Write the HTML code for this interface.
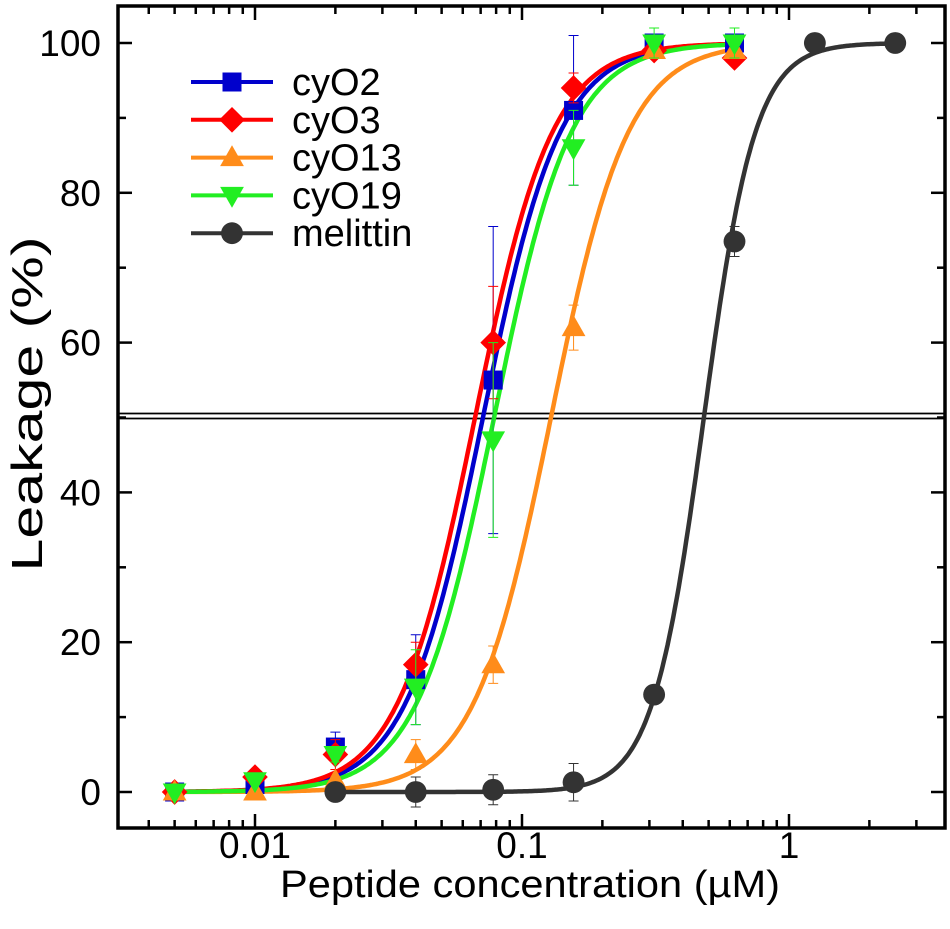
<!DOCTYPE html>
<html><head><meta charset="utf-8"><style>
body{margin:0;background:#fff}
svg{display:block;font-family:"Liberation Sans",Arial,sans-serif}
</style></head><body>
<svg id="chart" width="950" height="929" viewBox="0 0 950 929">
<g id="grid"></g>
<g id="curves"></g>
<g id="marks"></g>
<g id="axes"></g>
<g id="legend"></g>
</svg>
<script>
const concentrations = [0.005, 0.01, 0.02, 0.04, 0.078, 0.156, 0.3125, 0.625];
const melittinConc = [0.02, 0.04, 0.078, 0.156, 0.3125, 0.625, 1.25, 2.5];
const cyO2Values = [0, 1, 6, 15, 55, 91, 100, 100];
const cyO2Errors = [0, 1, 2, 6, 20.5, 10, 1, 1];
const cyO3Values = [0, 2, 5, 17, 60, 94, 99, 98];
const cyO3Errors = [0, 0, 2, 3, 7.5, 2, 1, 1];
const cyO13Values = [0, 0, 1.5, 5, 17, 62, 99, 99];
const cyO13Errors = [0, 0, 0, 2, 2.5, 3, 1, 1];
const cyO19Values = [0, 1.5, 5, 14, 47, 86, 100, 100];
const cyO19Errors = [0, 0, 1, 5, 13, 5, 2, 2];
const melittinValues = [0, 0, 0.3, 1.3, 13, 73.5, 100, 100];
const melittinErrors = [0, 2, 2, 2.5, 0, 2, 0, 0];
const ec50s = [0.0714, 0.0667, 0.1284, 0.0786, 0.48];
const hillN = [3, 3, 3, 3, 4.5];
const xTickLabels = ["0.01", "0.1", "1"];
const yTickLabels = [0, 20, 40, 60, 80, 100];

const NS = "http://www.w3.org/2000/svg";
const L = 118, R = 945, T = 6, B = 828;
function xs(v){ return 522 + 267 * Math.log10(v / 0.1); }
function ys(v){ return 792 - 7.49 * v; }
function mk(tag, attrs, parent){ const e = document.createElementNS(NS, tag); for (const k in attrs) e.setAttribute(k, attrs[k]); parent.appendChild(e); return e; }

const series = [
 {name:"cyO2", color:"#0000cc", x:concentrations, y:cyO2Values, e:cyO2Errors, m:"square"},
 {name:"cyO3", color:"#ff0000", x:concentrations, y:cyO3Values, e:cyO3Errors, m:"diamond"},
 {name:"cyO13", color:"#ff8c1a", x:concentrations, y:cyO13Values, e:cyO13Errors, m:"up"},
 {name:"cyO19", color:"#22ee22", x:concentrations, y:cyO19Values, e:cyO19Errors, m:"down"},
 {name:"melittin", color:"#333333", x:melittinConc, y:melittinValues, e:melittinErrors, m:"circle"}
];
const grid = document.getElementById("grid");
let hl = mk("line",{x1:L,x2:R,y1:413.5,y2:413.5,stroke:"#000","stroke-width":1.8},grid);


hl = mk("line",{x1:L,x2:R,y1:418.5,y2:418.5,stroke:"#000","stroke-width":1.8},grid);



function marker(s, cx, cy, parent, size){
 let el; const r = size;
 if (s.m === "square") el = mk("rect",{x:cx-r,y:cy-r,width:2*r,height:2*r,fill:s.color},parent);
 else if (s.m === "diamond") el = mk("polygon",{points:`${cx},${cy-r*1.35} ${cx+r*1.35},${cy} ${cx},${cy+r*1.35} ${cx-r*1.35},${cy}`,fill:s.color},parent);
 else if (s.m === "up") el = mk("polygon",{points:`${cx},${cy-r*1.3} ${cx+r*1.25},${cy+r*0.9} ${cx-r*1.25},${cy+r*0.9}`,fill:s.color},parent);
 else if (s.m === "down") el = mk("polygon",{points:`${cx},${cy+r*1.3} ${cx+r*1.25},${cy-r*0.9} ${cx-r*1.25},${cy-r*0.9}`,fill:s.color},parent);
 else el = mk("circle",{cx:cx,cy:cy,r:r*1.15,fill:s.color},parent);
 return el;
}
const curves = document.getElementById("curves"), marks = document.getElementById("marks");
series.forEach((s, i) => {
 let d = "";
 const lo = Math.log10(0.005), hi = Math.log10(s.name === "melittin" ? 2.5 : 0.625);
 const startLo = s.name === "melittin" ? Math.log10(0.02) : lo;
 for (let k = 0; k <= 300; k++){
  const lv = startLo + (hi - startLo) * k / 300, v = Math.pow(10, lv);
  const y = 100 / (1 + Math.pow(ec50s[i] / v, hillN[i]));
  d += (k ? "L" : "M") + xs(v).toFixed(1) + "," + ys(y).toFixed(1);
 }
 const c = mk("path",{d:d,fill:"none",stroke:s.color,"stroke-width":4.5},curves);
 
 
 s.x.forEach((xv, j) => {
  const cx = xs(xv), cy = ys(s.y[j]), e = s.e[j];
  if (e > 0){
   const g = mk("path",{d:`M${cx},${ys(s.y[j]+e)}V${ys(s.y[j]-e)}M${cx-5},${ys(s.y[j]+e)}h10M${cx-5},${ys(s.y[j]-e)}h10`,stroke:s.color,"stroke-width":1,fill:"none"},marks);
   
   
  }
  const m = marker(s, cx, cy, marks, 9.5);
  
  
 });
});

const axes = document.getElementById("axes");
const frame = mk("rect",{x:L,y:T,width:R-L,height:B-T,fill:"none",stroke:"#000","stroke-width":3.5},axes);


for (let dec = -3; dec <= 0; dec++){
 for (let k = 1; k <= 9; k++){
  const v = k * Math.pow(10, dec), x = xs(v);
  if (x < L || x > R) continue;
  const len = k === 1 ? 14 : 8;
  mk("line",{x1:x,x2:x,y1:B,y2:B-len,stroke:"#000","stroke-width":2.5},axes);
  mk("line",{x1:x,x2:x,y1:T,y2:T+len,stroke:"#000","stroke-width":2.5},axes);
 }
}
xTickLabels.forEach(t => {
 const tx = mk("text",{x:xs(parseFloat(t)),y:858,"text-anchor":"middle","font-size":37},axes);
 tx.textContent = t;
 
 
});
for (let v = 0; v <= 100; v += 10){
 const y = ys(v), len = v % 20 === 0 ? 14 : 8;
 mk("line",{x1:L,x2:L+len,y1:y,y2:y,stroke:"#000","stroke-width":2.5},axes);
 mk("line",{x1:R,x2:R-len,y1:y,y2:y,stroke:"#000","stroke-width":2.5},axes);
}
yTickLabels.forEach(v => {
 const tx = mk("text",{x:101,y:ys(v)+13,"text-anchor":"end","font-size":37},axes);
 tx.textContent = v;
 
 
});
const xt = mk("text",{x:530,y:897,"text-anchor":"middle","font-size":38,textLength:500,lengthAdjust:"spacingAndGlyphs"},axes);
xt.textContent = "Peptide concentration (\u00b5M)";


const yt = mk("text",{x:0,y:0,"text-anchor":"middle","font-size":44,textLength:335,lengthAdjust:"spacingAndGlyphs",transform:"translate(42,404) rotate(-90)"},axes);
yt.textContent = "Leakage (%)";



const legend = document.getElementById("legend");
series.forEach((s, i) => {
 const y = 82 + i * 37.8;
 const g = mk("g",{},legend);
 
 
 mk("line",{x1:191,x2:273,y1:y,y2:y,stroke:s.color,"stroke-width":4},g);
 marker(s, 232, y, g, 9.5);
 const t = mk("text",{x:292,y:y+13,"font-size":38},g);
 t.textContent = s.name;
});
</script>
</body></html>
